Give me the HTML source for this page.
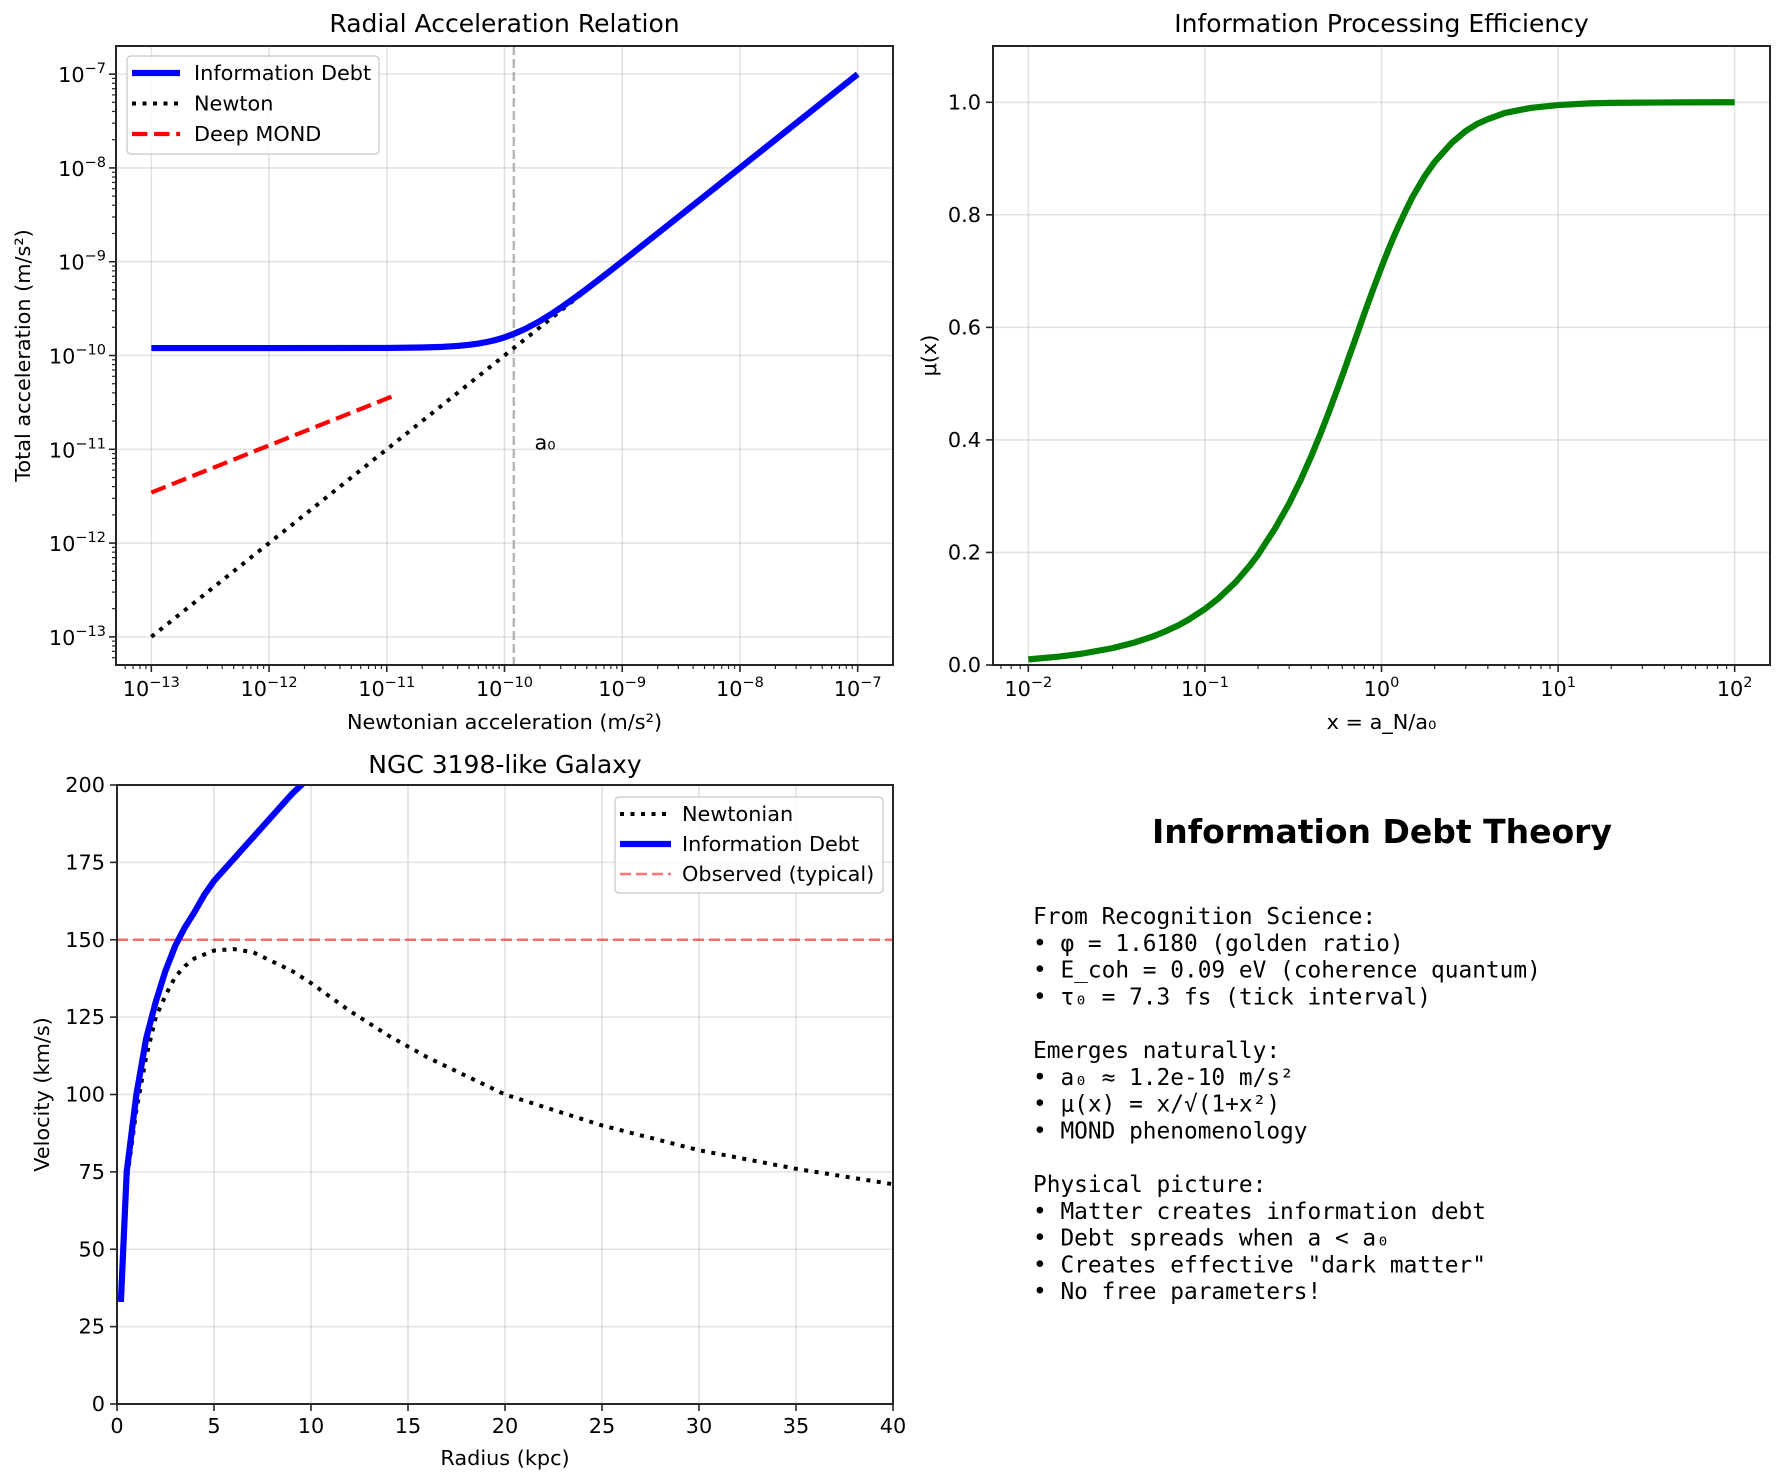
<!DOCTYPE html>
<html><head><meta charset="utf-8">
<style>
html,body{margin:0;padding:0;background:#fff}
svg{display:block}
text{font-family:"DejaVu Sans","Liberation Sans",sans-serif;fill:#000}
.mono{font-family:"DejaVu Sans Mono","Liberation Mono",monospace}
</style></head>
<body>
<svg id="fig" width="1784" height="1482" viewBox="0 0 1784 1482" xmlns="http://www.w3.org/2000/svg">
<rect width="1784" height="1482" fill="#fff"/>
<defs>
<clipPath id="c1"><rect x="116" y="46" width="777" height="619"/></clipPath>
<clipPath id="c2"><rect x="993" y="46" width="777" height="619"/></clipPath>
<clipPath id="c3"><rect x="117" y="785" width="776" height="619"/></clipPath>
</defs>
<g id="p1"></g>
<g id="p2"></g>
<g id="p3"></g>
<g id="p4">
<text x="1382" y="843" font-size="33" font-weight="bold" text-anchor="middle">Information Debt Theory</text>
<g class="mono" font-size="22.8">
<text class="mono" x="1033" y="924">From Recognition Science:</text>
<text class="mono" x="1033" y="950.8">• φ = 1.6180 (golden ratio)</text>
<text class="mono" x="1033" y="977.6">• E_coh = 0.09 eV (coherence quantum)</text>
<text class="mono" x="1033" y="1004.4">• τ₀ = 7.3 fs (tick interval)</text>
<text class="mono" x="1033" y="1058">Emerges naturally:</text>
<text class="mono" x="1033" y="1084.8">• a₀ ≈ 1.2e-10 m/s²</text>
<text class="mono" x="1033" y="1111.6">• μ(x) = x/√(1+x²)</text>
<text class="mono" x="1033" y="1138.4">• MOND phenomenology</text>
<text class="mono" x="1033" y="1192">Physical picture:</text>
<text class="mono" x="1033" y="1218.8">• Matter creates information debt</text>
<text class="mono" x="1033" y="1245.6">• Debt spreads when a &lt; a₀</text>
<text class="mono" x="1033" y="1272.4">• Creates effective "dark matter"</text>
<text class="mono" x="1033" y="1299.2">• No free parameters!</text>
</g>
</g>
</svg>
<script>
// ---- Panel 1 data ----
const p1_aN = [1e-13,1e-12,1e-11,2e-11,3e-11,4e-11,5e-11,6e-11,7e-11,8e-11,9e-11,1e-10,1.2e-10,1.5e-10,2e-10,2.5e-10,3e-10,4e-10,5e-10,7e-10,1e-9,3e-9,1e-8,1e-7];
const p1_info = [1.2e-10,1.2e-10,1.204e-10,1.217e-10,1.237e-10,1.265e-10,1.3e-10,1.34e-10,1.389e-10,1.44e-10,1.5e-10,1.56e-10,1.7e-10,1.92e-10,2.33e-10,2.77e-10,3.23e-10,4.18e-10,5.14e-10,7.1e-10,1.007e-9,3.0e-9,1e-8,1e-7];
const p1_newton = [1e-13,1e-12,1e-11,2e-11,3e-11,4e-11,5e-11,6e-11,7e-11,8e-11,9e-11,1e-10,1.2e-10,1.5e-10,2e-10,2.5e-10,3e-10,4e-10,5e-10,7e-10,1e-9,3e-9,1e-8,1e-7];
const p1_mondX = [1e-13,1e-12,1.2e-11];
const p1_mondY = [3.46e-12,1.1e-11,3.8e-11];
const p1_a0 = 1.2e-10;
const p1_ticks = [-13,-12,-11,-10,-9,-8,-7];
// ---- Panel 2 data ----
const p2_x = [0.01,0.015,0.02,0.03,0.04,0.05,0.06,0.07,0.08,0.1,0.12,0.15,0.18,0.2,0.25,0.3,0.35,0.4,0.45,0.5,0.55,0.6,0.65,0.7,0.8,0.9,1,1.1,1.2,1.35,1.5,1.75,2,2.5,3,3.5,4,5,6,7,8,10,15,20,30,50,100];
const p2_mu = [0.01,0.015,0.02,0.03,0.04,0.05,0.06,0.0698,0.0797,0.0995,0.119,0.148,0.177,0.196,0.243,0.287,0.330,0.371,0.410,0.447,0.482,0.514,0.545,0.573,0.625,0.669,0.707,0.740,0.768,0.803,0.832,0.868,0.894,0.928,0.949,0.962,0.970,0.981,0.986,0.990,0.992,0.995,0.998,0.999,0.9994,0.9998,1.0];
const p2_xticks = [-2,-1,0,1,2];
const p2_yticks = [0,0.2,0.4,0.6,0.8,1.0];
// ---- Panel 3 data ----
const p3_rN = [0.2,0.5,1,1.5,2,2.5,3,3.5,4,5,6,7,8,9,10,12,14,16,18,20,25,30,35,40];
const p3_vN = [33,72,95,112,125,132,138,141.5,144,146.5,147,146,143,140,136,127,119,112,106,100,90,82,76,71];
const p3_rI = [0.2,0.5,1,1.5,2,2.5,3,3.5,4,4.5,5,6,7,8,9,10];
const p3_vI = [33,75,100,118,130,140,148,154,159,164.5,169,176,183,190,197,203];
const p3_obs = 150;
const p3_xticks = [0,5,10,15,20,25,30,35,40];
const p3_yticks = [0,25,50,75,100,125,150,175,200];

const NS='http://www.w3.org/2000/svg';
function el(parent,tag,attrs,txt){const e=document.createElementNS(NS,tag);for(const k in attrs)e.setAttribute(k,attrs[k]);if(txt!==undefined)e.textContent=txt;parent.appendChild(e);return e;}
function poly(xs,ys,fx,fy){return xs.map((v,i)=>fx(v).toFixed(2)+','+fy(ys[i]).toFixed(2)).join(' ');}
function supLabel(g,x,y,exp,anchor){
  const t=el(g,'text',{x:x,y:y,'font-size':20.8,'text-anchor':anchor});
  const a=document.createElementNS(NS,'tspan');a.textContent='10';t.appendChild(a);
  const b=document.createElementNS(NS,'tspan');b.setAttribute('dy','-9');b.setAttribute('font-size','14.5');b.textContent=(exp<0?'\u2212'+(-exp):''+exp);t.appendChild(b);
  
  return t;
}
function frame(g,L,T,W,H){
  const r=el(g,'rect',{x:L,y:T,width:W,height:H,fill:'none',stroke:'#262626','stroke-width':2});
  
}
function grid(g,x1,y1,x2,y2){
  const l=el(g,'line',{x1,y1,x2,y2,stroke:'#b0b0b0','stroke-opacity':0.35,'stroke-width':1.6});
  
}
function tick(g,x1,y1,x2,y2,w){const l=el(g,'line',{x1,y1,x2,y2,stroke:'#262626','stroke-width':w||1.6});}

// ===== Panel 1 =====
(function(){
  const g=document.getElementById('p1');
  const L=116,T=46,W=777,H=619,R=L+W,B=T+H;
  const lx0=-13.3,lx1=-6.7;
  const fx=v=>L+(Math.log10(v)-lx0)/(lx1-lx0)*W;
  const fy=v=>B-(Math.log10(v)-lx0)/(lx1-lx0)*H;
  p1_ticks.forEach(e=>{const x=fx(Math.pow(10,e)),y=fy(Math.pow(10,e));grid(g,x,T,x,B);grid(g,L,y,R,y);});
  const a0=el(g,'line',{x1:fx(p1_a0),y1:T,x2:fx(p1_a0),y2:B,stroke:'#999','stroke-width':2.5,'stroke-dasharray':'9,4','stroke-opacity':0.7});
  
  const cg=el(g,'g',{'clip-path':'url(#c1)'});
  const m=el(cg,'polyline',{points:poly(p1_mondX,p1_mondY,fx,fy),fill:'none',stroke:'#ff0000','stroke-width':4.2,'stroke-dasharray':'15.4,6.7'});
  
  const n=el(cg,'polyline',{points:poly(p1_aN,p1_newton,fx,fy),fill:'none',stroke:'#000','stroke-width':4,'stroke-dasharray':'4,6.5'});
  
  const i=el(cg,'polyline',{points:poly(p1_aN,p1_info,fx,fy),fill:'none',stroke:'#0000ff','stroke-width':6.2,'stroke-linejoin':'round'});
  
  const at=el(g,'text',{x:fx(p1_a0*1.5),y:fy(1e-11),'font-size':20.8},'a₀');
  
  frame(g,L,T,W,H);
  for(let e=-14;e<=-7;e++){for(let k=1;k<10;k++){const v=k*Math.pow(10,e);const lv=Math.log10(v);if(lv<lx0||lv>lx1)continue;
    const x=fx(v),y=fy(v);const len=k===1?7:4;const w=k===1?1.6:1.2;
    tick(g,x,B,x,B+len,w);tick(g,L,y,L-len,y,w);}}
  p1_ticks.forEach(e=>{supLabel(g,fx(Math.pow(10,e)),B+31,e,'middle');supLabel(g,L-10,fy(Math.pow(10,e))+8,e,'end');});
  let t=el(g,'text',{x:(L+R)/2,y:32,'font-size':25,'text-anchor':'middle'},'Radial Acceleration Relation');
  
  t=el(g,'text',{x:(L+R)/2,y:729,'font-size':20.8,'text-anchor':'middle'},'Newtonian acceleration (m/s²)');
  
  t=el(g,'text',{x:30,y:(T+B)/2,'font-size':20.8,'text-anchor':'middle',transform:'rotate(-90 30 '+((T+B)/2)+')'},'Total acceleration (m/s²)');
  
  const lg=el(g,'g',{});
  el(lg,'rect',{x:127,y:56,width:252,height:98,rx:4,fill:'#fff','fill-opacity':0.85,stroke:'#d0d0d0','stroke-width':1.5});
  const items=[['Information Debt','#0000ff',6.2,''],['Newton','#000',4,'4,6.5'],['Deep MOND','#ff0000',4.2,'15.4,6.7']];
  items.forEach((it,k)=>{const y=73+k*30.5;
    const ln=el(lg,'line',{x1:132,y1:y,x2:180,y2:y,stroke:it[1],'stroke-width':it[2],'stroke-dasharray':it[3]});
    
    const tx=el(lg,'text',{x:194,y:y+7,'font-size':20.8},it[0]);
    });
})();

// ===== Panel 2 =====
(function(){
  const g=document.getElementById('p2');
  const L=993,T=46,W=777,H=619,R=L+W,B=T+H;
  const lx0=-2.2,lx1=2.2;
  const fx=v=>L+(Math.log10(v)-lx0)/(lx1-lx0)*W;
  const fy=v=>B-(v/1.1)*H;
  p2_xticks.forEach(e=>{const x=fx(Math.pow(10,e));grid(g,x,T,x,B);});
  p2_yticks.forEach(v=>{const y=fy(v);grid(g,L,y,R,y);});
  const cg=el(g,'g',{'clip-path':'url(#c2)'});
  const c=el(cg,'polyline',{points:poly(p2_x,p2_mu,fx,fy),fill:'none',stroke:'#008000','stroke-width':6.2,'stroke-linejoin':'round'});
  
  frame(g,L,T,W,H);
  for(let e=-3;e<=2;e++){for(let k=1;k<10;k++){const v=k*Math.pow(10,e);const lv=Math.log10(v);if(lv<lx0||lv>lx1)continue;
    const x=fx(v);tick(g,x,B,x,B+(k===1?7:4),k===1?1.6:1.2);}}
  p2_xticks.forEach(e=>supLabel(g,fx(Math.pow(10,e)),B+31,e,'middle'));
  p2_yticks.forEach(v=>{const y=fy(v);tick(g,L,y,L-7,y);
    const t=el(g,'text',{x:L-12,y:y+7,'font-size':20.8,'text-anchor':'end'},v.toFixed(1));
    });
  let t=el(g,'text',{x:(L+R)/2,y:32,'font-size':25,'text-anchor':'middle'},'Information Processing Efficiency');
  
  t=el(g,'text',{x:(L+R)/2,y:729,'font-size':20.8,'text-anchor':'middle'},'x = a_N/a₀');
  
  t=el(g,'text',{x:936,y:(T+B)/2,'font-size':20.8,'text-anchor':'middle',transform:'rotate(-90 936 '+((T+B)/2)+')'},'μ(x)');
  
})();

// ===== Panel 3 =====
(function(){
  const g=document.getElementById('p3');
  const L=117,T=785,W=776,H=619,R=L+W,B=T+H;
  const fx=v=>L+v/40*W;
  const fy=v=>B-v/200*H;
  p3_xticks.forEach(v=>{const x=fx(v);grid(g,x,T,x,B);});
  p3_yticks.forEach(v=>{const y=fy(v);grid(g,L,y,R,y);});
  const cg=el(g,'g',{'clip-path':'url(#c3)'});
  const o=el(cg,'line',{x1:L,y1:fy(p3_obs),x2:R,y2:fy(p3_obs),stroke:'#ff0000','stroke-opacity':0.55,'stroke-width':2.6,'stroke-dasharray':'11,5'});
  
  const n=el(cg,'polyline',{points:poly(p3_rN,p3_vN,fx,fy),fill:'none',stroke:'#000','stroke-width':4,'stroke-dasharray':'4,6.5'});
  
  const i=el(cg,'polyline',{points:poly(p3_rI,p3_vI,fx,fy),fill:'none',stroke:'#0000ff','stroke-width':6.2,'stroke-linejoin':'round'});
  
  frame(g,L,T,W,H);
  p3_xticks.forEach(v=>{const x=fx(v);tick(g,x,B,x,B+7);
    const t=el(g,'text',{x:x,y:B+29,'font-size':20.8,'text-anchor':'middle'},String(v));
    });
  p3_yticks.forEach(v=>{const y=fy(v);tick(g,L,y,L-7,y);
    const t=el(g,'text',{x:L-12,y:y+7,'font-size':20.8,'text-anchor':'end'},String(v));
    });
  let t=el(g,'text',{x:(L+R)/2,y:773,'font-size':25,'text-anchor':'middle'},'NGC 3198-like Galaxy');
  
  t=el(g,'text',{x:(L+R)/2,y:1465,'font-size':20.8,'text-anchor':'middle'},'Radius (kpc)');
  
  t=el(g,'text',{x:49,y:(T+B)/2,'font-size':20.8,'text-anchor':'middle',transform:'rotate(-90 49 '+((T+B)/2)+')'},'Velocity (km/s)');
  
  const lg=el(g,'g',{});
  el(lg,'rect',{x:615,y:797,width:268,height:96,rx:4,fill:'#fff','fill-opacity':0.85,stroke:'#d0d0d0','stroke-width':1.5});
  const items=[['Newtonian','#000',4,'4,6.5',1],['Information Debt','#0000ff',6.2,'',1],['Observed (typical)','#ff0000',2.6,'11,5',0.55]];
  items.forEach((it,k)=>{const y=814+k*30;
    const ln=el(lg,'line',{x1:620,y1:y,x2:671,y2:y,stroke:it[1],'stroke-width':it[2],'stroke-dasharray':it[3],'stroke-opacity':it[4]});
    
    const tx=el(lg,'text',{x:682,y:y+7,'font-size':20.8},it[0]);
    });
})();
</script>
</body></html>
